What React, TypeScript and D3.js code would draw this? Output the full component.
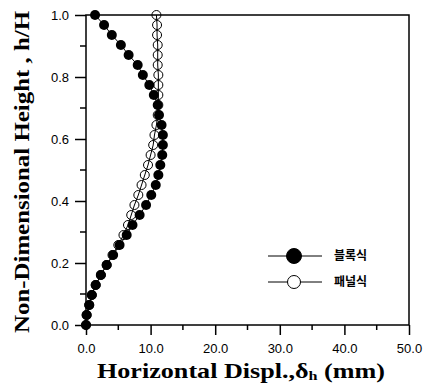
import * as d3 from "d3";
import { useEffect, useRef } from "react";

// h/H levels, top to bottom
const heights = d3.range(32).map((i) => 1 - i / 31);

// block type (filled)
const blockDispl = [
  1.4, 2.8, 4.0, 5.4, 6.6, 8.0, 8.8, 9.8, 10.5, 11.1, 11.3, 11.7, 11.9, 11.9,
  11.8, 11.5, 11.2, 10.8, 10.1, 9.3, 8.3, 7.2, 6.3, 5.2, 4.2, 3.2, 2.3, 1.5, 0.9,
  0.5, 0.1, 0.0,
];

// panel type (open)
const panelDispl = [
  10.9, 11.0, 11.0, 11.1, 11.1, 11.1, 11.2, 11.2, 11.2, 11.2, 11.1, 10.9, 10.6,
  10.4, 10.0, 9.6, 9.1, 8.6, 8.1, 7.5, 7.0, 6.5, 5.8, 5.0, 4.1, 3.2, 2.3, 1.5,
  0.9, 0.5, 0.1, 0.0,
];

const xTicks = [0, 10, 20, 30, 40, 50];
const yTicks = [0, 0.2, 0.4, 0.6, 0.8, 1.0];
const legendLabels = ["블록식", "패널식"];

export default function App() {
  const ref = useRef<SVGSVGElement | null>(null);

  useEffect(() => {
    document.body.style.margin = "0";
    if (!ref.current) return;
    const svg = d3.select(ref.current);
    svg.selectAll("*").remove();

    const left = 86;
    const right = 409;
    const top = 15;
    const bottom = 325;

    const x = d3.scaleLinear().domain([0, 50]).range([left, right]);
    const y = d3.scaleLinear().domain([0, 1]).range([bottom, top]);

    svg.append("rect").attr("width", 425).attr("height", 387).attr("fill", "#fff");

    // frame
    svg
      .append("rect")
      .attr("x", left)
      .attr("y", top)
      .attr("width", right - left)
      .attr("height", bottom - top)
      .attr("fill", "none")
      .attr("stroke", "#000")
      .attr("stroke-width", 1.5);

    // X axis
    const xAxis = svg
      .append("g")
      .attr("transform", `translate(0,${bottom})`)
      .call(
        d3
          .axisBottom(x)
          .tickValues(xTicks)
          .tickFormat((d) => d3.format(".1f")(d as number))
          .tickSize(10)
          .tickPadding(9)
      );
    xAxis.select(".domain").remove();
    xAxis.selectAll("line").attr("stroke-width", 1.5);
    xAxis
      .selectAll("text")
      .style("font-family", "'Liberation Sans', Arial, sans-serif")
      .style("font-size", "13px");
    svg
      .append("g")
      .selectAll("line")
      .data(d3.range(5, 50, 10))
      .enter()
      .append("line")
      .attr("x1", (d) => x(d))
      .attr("x2", (d) => x(d))
      .attr("y1", bottom)
      .attr("y2", bottom + 5)
      .attr("stroke", "#000")
      .attr("stroke-width", 1.5);

    // Y axis
    const yAxis = svg
      .append("g")
      .attr("transform", `translate(${left},0)`)
      .call(
        d3
          .axisLeft(y)
          .tickValues(yTicks)
          .tickFormat((d) => d3.format(".1f")(d as number))
          .tickSize(11)
          .tickPadding(6)
      );
    yAxis.select(".domain").remove();
    yAxis.selectAll("line").attr("stroke-width", 1.5);
    yAxis
      .selectAll("text")
      .style("font-family", "'Liberation Sans', Arial, sans-serif")
      .style("font-size", "13px");
    svg
      .append("g")
      .selectAll("line")
      .data([0.1, 0.3, 0.5, 0.7, 0.9])
      .enter()
      .append("line")
      .attr("x1", left)
      .attr("x2", left - 6)
      .attr("y1", (d) => y(d))
      .attr("y2", (d) => y(d))
      .attr("stroke", "#000")
      .attr("stroke-width", 1.5);

    // series
    const line = d3
      .line<number>()
      .x((d) => x(d))
      .y((_, i) => y(heights[i]));

    svg
      .append("path")
      .attr("d", line(blockDispl))
      .attr("fill", "none")
      .attr("stroke", "#000")
      .attr("stroke-width", 1);
    svg
      .append("path")
      .attr("d", line(panelDispl))
      .attr("fill", "none")
      .attr("stroke", "#000")
      .attr("stroke-width", 1);

    svg
      .append("g")
      .selectAll("circle")
      .data(blockDispl)
      .enter()
      .append("circle")
      .attr("cx", (d) => x(d))
      .attr("cy", (_, i) => y(heights[i]))
      .attr("r", 5)
      .attr("fill", "#000");

    svg
      .append("g")
      .selectAll("circle")
      .data(panelDispl)
      .enter()
      .append("circle")
      .attr("cx", (d) => x(d))
      .attr("cy", (_, i) => y(heights[i]))
      .attr("r", 4.5)
      .attr("fill", "none")
      .attr("stroke", "#000")
      .attr("stroke-width", 1);

    // legend
    const legend = svg.append("g");
    legendLabels.forEach((label, i) => {
      const ly = 256 + i * 26;
      legend
        .append("line")
        .attr("x1", 268)
        .attr("x2", 322)
        .attr("y1", ly)
        .attr("y2", ly)
        .attr("stroke", "#000")
        .attr("stroke-width", 1);
      legend
        .append("circle")
        .attr("cx", 294)
        .attr("cy", ly)
        .attr("r", i === 0 ? 7.5 : 6.5)
        .attr("fill", i === 0 ? "#000" : "#fff")
        .attr("stroke", "#000")
        .attr("stroke-width", 1);
      legend
        .append("text")
        .attr("x", 334)
        .attr("y", ly + 4)
        .style("font-family", "'Noto Sans CJK KR', sans-serif")
        .style("font-size", "12px")
        .style("font-weight", 700)
        .text(label);
    });

    // axis titles
    const xt = svg
      .append("text")
      .attr("x", 97)
      .attr("y", 378)
      .attr("textLength", 288)
      .attr("lengthAdjust", "spacingAndGlyphs")
      .style("font-family", "'Liberation Serif', 'Times New Roman', serif")
      .style("font-weight", "bold")
      .style("font-size", "21px");
    xt.append("tspan").text("Horizontal Displ.,δ");
    xt.append("tspan").attr("dy", 2).style("font-size", "13px").text("h");
    xt.append("tspan").attr("dy", -2).text(" (mm)");

    svg
      .append("text")
      .attr("transform", "translate(29,333) rotate(-90)")
      .attr("textLength", 322)
      .attr("lengthAdjust", "spacingAndGlyphs")
      .style("font-family", "'Liberation Serif', 'Times New Roman', serif")
      .style("font-weight", "bold")
      .style("font-size", "20px")
      .text("Non-Dimensional Height , h/H");
  }, []);

  return <svg ref={ref} width={425} height={387} style={{ display: "block" }}></svg>;
}
